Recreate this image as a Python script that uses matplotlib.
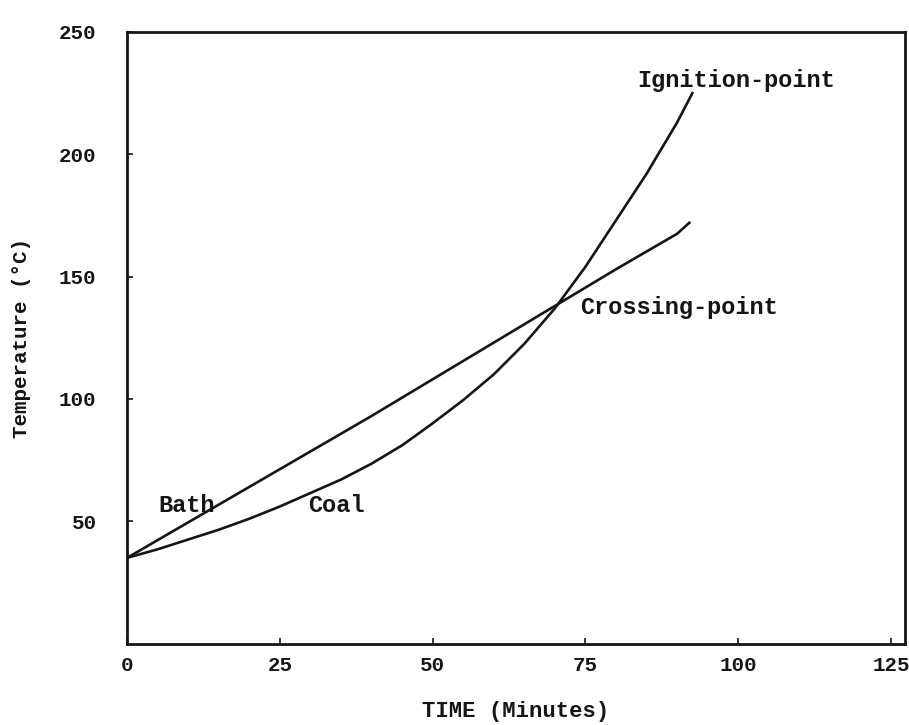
import numpy as np
import matplotlib
matplotlib.use("Agg")
import matplotlib.pyplot as plt

# data
time_bath = [0, 10, 20, 30, 40, 50, 60, 70, 80, 90, 92]
temp_bath = [35, 49.5, 64, 78.5, 93, 108, 123, 138, 153, 167.5, 172]

time_coal = [0, 5, 10, 15, 20, 25, 30, 35, 40, 45, 50,
             55, 60, 65, 70, 75, 80, 85, 90, 92.5]
temp_coal = [35, 38.5, 42.5, 46.5, 51, 56, 61.5, 67, 73.5, 81, 90,
             99.5, 110, 122.5, 137, 154, 173, 192, 213, 225]

x_ticks = [0, 25, 50, 75, 100, 125]
y_ticks = [50, 100, 150, 200, 250]

plt.rcParams["font.family"] = ["Liberation Mono", "DejaVu Sans Mono"]
plt.rcParams["font.weight"] = "bold"
plt.rcParams["axes.labelweight"] = "bold"

ink = "#151515"

fig = plt.figure(figsize=(9.09, 7.25), dpi=100)
ax = fig.add_axes([0.1397, 0.1124, 0.856, 0.8435])

ax.plot(time_bath, temp_bath, color=ink, linewidth=1.9, solid_joinstyle="round")
ax.plot(time_coal, temp_coal, color=ink, linewidth=1.9, solid_joinstyle="round")

ax.set_xlim(0, 127.3)
ax.set_ylim(0, 250)

ax.set_xticks(x_ticks)
ax.set_xticklabels([str(v) for v in x_ticks])
ax.set_yticks(y_ticks)
ax.set_yticklabels([str(v) for v in y_ticks])
ax.tick_params(direction="in", length=4, width=1.2, labelsize=15, colors=ink)
ax.tick_params(axis="x", pad=9)
ax.tick_params(axis="y", pad=22)

for s in ax.spines.values():
    s.set_linewidth(2.0)
    s.set_color(ink)

ax.set_xlabel("TIME (Minutes)", fontsize=16, labelpad=19, color=ink)
ax.set_ylabel("Temperature (°C)", fontsize=15, labelpad=20, color=ink)

# curve annotations
ax.text(83.5, 230, "Ignition-point", fontsize=17, va="center", ha="left", color=ink)
ax.text(74.1, 137.5, "Crossing-point", fontsize=17, va="center", ha="left", color=ink)
ax.text(5.1, 56.4, "Bath", fontsize=17, va="center", ha="left", color=ink)
ax.text(29.6, 56.4, "Coal", fontsize=17, va="center", ha="left", color=ink)

fig.savefig("out.png", dpi=100)
plt.close(fig)
